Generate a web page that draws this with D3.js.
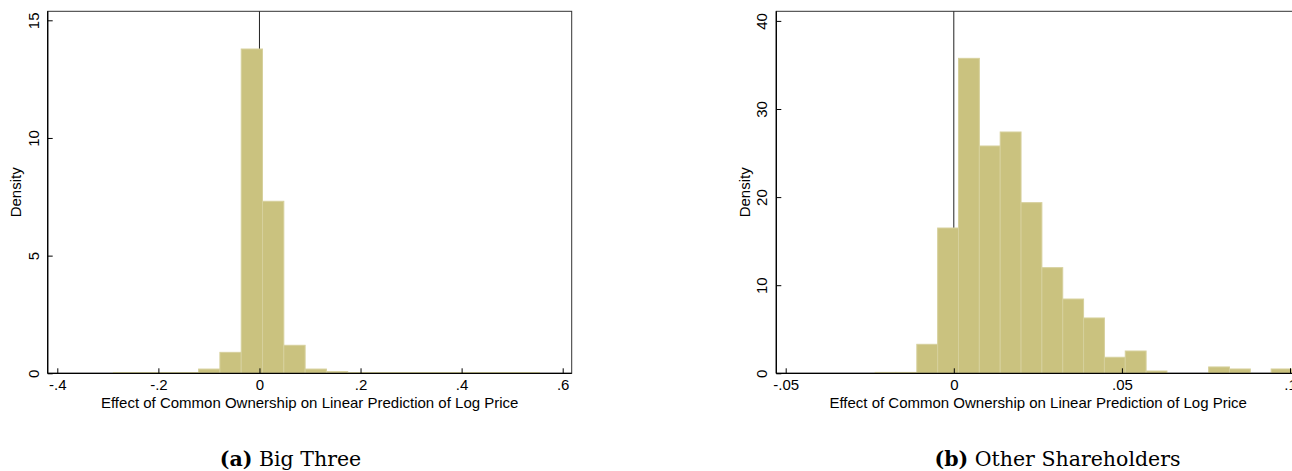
<!DOCTYPE html>
<html>
<head>
<meta charset="utf-8">
<script src="https://cdn.jsdelivr.net/npm/d3@7"></script>
<style>
  html, body { margin: 0; padding: 0; background: #fff; }
  svg { display: block; }
  .tick text { font-family: "Liberation Sans", Arial, sans-serif; font-size: 15px; fill: #000; }
</style>
</head>
<body>
<svg id="chart" width="1292" height="471"></svg>
<script>
// ---- data ----
const bigThreeStart = -0.289
const bigThreeBinWidth = 0.04215
const bigThreeDensity = [0.03, 0.03, 0.03, 0.03, 0.18, 0.89, 13.78, 7.31, 1.19, 0.18,
                         0.07, 0.03, 0.03, 0.03, 0.03, 0.03, 0.03, 0.03, 0.03, 0.03]

const otherStart = -0.0234
const otherBinWidth = 0.0062
const otherDensity = [0.1, 0.1, 3.29, 16.49, 35.75, 25.8, 27.39, 19.37, 11.99, 8.43,
                      6.28, 1.82, 2.53, 0.26, 0, 0, 0.72, 0.49, 0, 0.49]

const bigThreeXTicks = [-0.4, -0.2, 0, 0.2, 0.4, 0.6]
const bigThreeXLabels = ['-.4', '-.2', '0', '.2', '.4', '.6']
const bigThreeYTicks = [0, 5, 10, 15]

const otherXTicks = [-0.05, 0, 0.05, 0.1]
const otherXLabels = ['-.05', '0', '.05', '.1']
const otherYTicks = [0, 10, 20, 30, 40]

const xTitle = 'Effect of Common Ownership on Linear Prediction of Log Price'
const yTitle = 'Density'

// ---- layout ----
const FONT = '"Liberation Sans", Arial, sans-serif'
const BAR_FILL = '#cac27f'
const BAR_STROKE = '#d6d09c'
const TOP = 11.3
const BOTTOM = 373.3

const svg = d3.select('#chart')

drawPanel({
  left: 47.7, right: 571.7,
  xDomain: [-0.4, 0.6], xRange: [57.3, 562.7],
  yDomain: [0, 15], yRange: [BOTTOM, 20.3],
  xTicks: bigThreeXTicks, xLabels: bigThreeXLabels, yTicks: bigThreeYTicks,
  start: bigThreeStart, binWidth: bigThreeBinWidth, density: bigThreeDensity,
  caption: ['(a)', ' Big Three'], captionX: 290.5
})

drawPanel({
  left: 776.3, right: 1300,
  xDomain: [-0.05, 0.1], xRange: [785.7, 1290],
  yDomain: [0, 40], yRange: [BOTTOM, 20.9],
  xTicks: otherXTicks, xLabels: otherXLabels, yTicks: otherYTicks,
  start: otherStart, binWidth: otherBinWidth, density: otherDensity,
  caption: ['(b)', ' Other Shareholders'], captionX: 1057.5
})

function drawPanel (p) {
  const x = d3.scaleLinear().domain(p.xDomain).range(p.xRange)
  const y = d3.scaleLinear().domain(p.yDomain).range(p.yRange)
  const bins = p.density.map((d, i) => ({
    x0: p.start + i * p.binWidth,
    x1: p.start + (i + 1) * p.binWidth,
    density: d
  }))

  const g = svg.append('g')

  // frame (top / right in grey)
  g.append('rect')
    .attr('x', p.left).attr('y', TOP)
    .attr('width', p.right - p.left).attr('height', BOTTOM - TOP)
    .attr('fill', 'none').attr('stroke', '#333').attr('stroke-width', 1)

  // reference line at zero, behind the bars
  g.append('line')
    .attr('x1', x(0)).attr('x2', x(0))
    .attr('y1', TOP).attr('y2', BOTTOM)
    .attr('stroke', '#222').attr('stroke-width', 1)

  g.selectAll('rect.bar')
    .data(bins.filter(d => d.density > 0))
    .enter()
    .append('rect')
    .classed('bar', true)
    .attr('x', d => x(d.x0))
    .attr('width', d => x(d.x1) - x(d.x0))
    .attr('y', d => y(d.density))
    .attr('height', d => y(0) - y(d.density))
    .attr('fill', BAR_FILL)
    .attr('stroke', BAR_STROKE)
    .attr('stroke-width', 1)

  // x axis
  const xAxis = d3.axisBottom(x)
    .tickValues(p.xTicks)
    .tickFormat((d, i) => p.xLabels[i])
    .tickSize(-5)
    .tickSizeOuter(0)
    .tickPadding(6.5)

  g.append('g')
    .attr('transform', `translate(0, ${BOTTOM})`)
    .call(xAxis)
    .call(sel => {
      sel.select('.domain').remove()
      sel.selectAll('.tick line').attr('stroke', '#000')
    })

  g.append('line')
    .attr('x1', p.left).attr('x2', p.right)
    .attr('y1', BOTTOM).attr('y2', BOTTOM)
    .attr('stroke', '#000').attr('stroke-width', 1.3)

  // y axis
  const yAxis = d3.axisLeft(y)
    .tickValues(p.yTicks)
    .tickSize(-5)
    .tickSizeOuter(0)

  g.append('g')
    .attr('transform', `translate(${p.left}, 0)`)
    .call(yAxis)
    .call(sel => {
      sel.select('.domain').remove()
      sel.selectAll('.tick line').attr('stroke', '#000')
      sel.selectAll('.tick text')
        .attr('x', null).attr('dy', null)
        .attr('text-anchor', 'middle')
        .attr('transform', 'translate(-9, 0) rotate(-90)')
    })

  g.append('line')
    .attr('x1', p.left).attr('x2', p.left)
    .attr('y1', TOP).attr('y2', BOTTOM)
    .attr('stroke', '#000').attr('stroke-width', 1.3)

  // axis titles
  g.append('text')
    .attr('x', (p.left + Math.min(p.right, 571.7 + (p.left - 47.7))) / 2)
    .attr('y', 408.3)
    .attr('text-anchor', 'middle')
    .attr('font-family', FONT).attr('font-size', 15)
    .text(xTitle)

  g.append('text')
    .attr('transform', `translate(${p.left - 26.3}, ${(TOP + BOTTOM) / 2}) rotate(-90)`)
    .attr('text-anchor', 'middle')
    .attr('font-family', FONT).attr('font-size', 15)
    .text(yTitle)

  // caption
  const cap = g.append('text')
    .attr('x', p.captionX).attr('y', 466)
    .attr('text-anchor', 'middle')
    .attr('font-family', '"DejaVu Serif", "Liberation Serif", serif')
    .attr('font-size', 20.5)
  cap.append('tspan').attr('font-weight', 'bold').text(p.caption[0])
  cap.append('tspan').text(p.caption[1])
}
</script>
</body>
</html>
